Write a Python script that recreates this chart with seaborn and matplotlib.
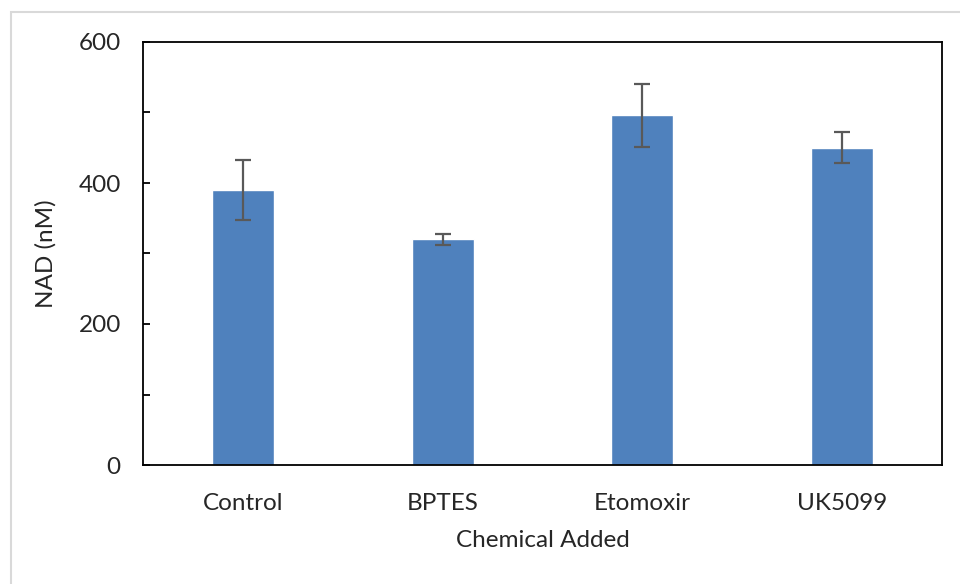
import numpy as np
import pandas as pd
import matplotlib
matplotlib.use("Agg")
import matplotlib.pyplot as plt
import seaborn as sns
from matplotlib.patches import Rectangle
from matplotlib.ticker import MultipleLocator

# данные с графика
chemicals = ["Control", "BPTES", "Etomoxir", "UK5099"]
nad_mean = [390, 320, 496, 450]
nad_err = [43, 8, 45, 22]

sns.set_theme(style="white")
plt.rcParams["font.family"] = ["Lato", "DejaVu Sans"]

df = pd.DataFrame({"Chemical": chemicals, "NAD": nad_mean})

fig = plt.figure(figsize=(9.6, 5.84), dpi=100)
ax = fig.add_axes([143 / 960, 119 / 584, 799 / 960, 423 / 584])

# светло-серая рамка области диаграммы
fig.patches.append(Rectangle((11 / 960, -0.1), 1.2, 1 - 12 / 584 + 0.1,
                             transform=fig.transFigure, fill=False,
                             edgecolor="#d9d9d9", linewidth=1.5))

sns.barplot(data=df, x="Chemical", y="NAD", color="#4F81BD", saturation=1,
            width=0.31, errorbar=None, ax=ax)

ax.errorbar(ax.get_xticks(), nad_mean, yerr=nad_err, fmt="none",
            ecolor="#595959", elinewidth=1.6, capsize=6, capthick=1.6)

ax.set_xlim(-0.5, len(chemicals) - 0.5)
ax.set_ylim(0, 600)
ax.yaxis.set_major_locator(MultipleLocator(200))
ax.yaxis.set_minor_locator(MultipleLocator(100))
ax.tick_params(axis="y", which="both", direction="in", length=5, width=1.3,
               left=True, color="black", labelsize=17.5, pad=16)
ax.tick_params(axis="x", length=0, labelsize=17.5, pad=20)

for s in ax.spines.values():
    s.set_visible(True)
    s.set_color("black")
    s.set_linewidth(1.3)

ax.set_xlabel("Chemical Added", fontsize=17.5, labelpad=12)
ax.set_ylabel("NAD (nM)", fontsize=17.5, labelpad=16)

plt.savefig("out.png", dpi=100)
